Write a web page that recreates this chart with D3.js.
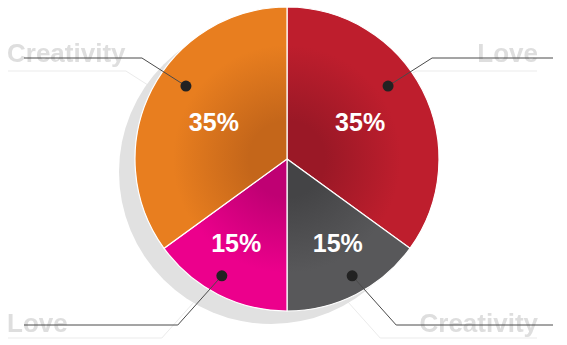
<!DOCTYPE html>
<html>
<head>
<meta charset="utf-8">
<script src="https://cdn.jsdelivr.net/npm/d3@7"></script>
<style>
  body { margin: 0; background: #fff; }
  svg { display: block; font-family: "Liberation Sans", Arial, sans-serif; }
</style>
</head>
<body>
<div id="chart"></div>
<script>
// slices, clockwise from 12 o'clock
const categories = ["Love", "Creativity", "Love", "Creativity"];
const values = [35, 15, 15, 35];
const colors = ["#be1e2d", "#58585a", "#ec008c", "#e87e1f"];
const darkColors = ["#9a1826", "#444446", "#bf0073", "#c4661a"];

const width = 567, height = 345;
const cx = 287, cy = 159, radius = 152;
const shadow = {x: -16, y: 13};
const rowY = {top: 58, bottom: 325};
const lineEnd = {left: 24, right: 553};
const textX = {left: 7, right: 538};

const svg = d3.select("#chart").append("svg")
    .attr("width", width)
    .attr("height", height);

const defs = svg.append("defs");
colors.forEach((c, i) => {
  const g = defs.append("radialGradient")
      .attr("id", `grad${i}`)
      .attr("gradientUnits", "userSpaceOnUse")
      .attr("cx", 0).attr("cy", 0).attr("r", radius);
  g.append("stop").attr("offset", "0%").attr("stop-color", darkColors[i]);
  g.append("stop").attr("offset", "25%").attr("stop-color", darkColors[i]);
  g.append("stop").attr("offset", "75%").attr("stop-color", c);
  g.append("stop").attr("offset", "100%").attr("stop-color", c);
});
defs.append("filter").attr("id", "soft")
  .append("feGaussianBlur").attr("stdDeviation", 0.4);

const pie = d3.pie().sort(null).value(d => d);
const arcs = pie(values);
const arc = d3.arc().innerRadius(0).outerRadius(radius);

// leader geometry for each slice
const callouts = arcs.map((d, i) => {
  const mid = (d.startAngle + d.endAngle) / 2;
  const span = d.endAngle - d.startAngle;
  const side = mid < Math.PI ? 1 : -1;
  const top = Math.cos(mid) > 0;
  const large = span > Math.PI / 2;
  const a = mid - side * (large ? 0.07 : 0.04) * span;
  const r = (large ? 0.82 : 0.88) * radius;
  const dot = [cx + r * Math.sin(a), cy - r * Math.cos(a)];
  const elbow = [dot[0] + side * 44, top ? rowY.top : rowY.bottom];
  const end = [side > 0 ? lineEnd.right : lineEnd.left, elbow[1]];
  return {i, side, top, large, mid, dot, elbow, end};
});

const line = d3.line();

// faint reflection of leaders
svg.append("g")
  .selectAll("path")
  .data(callouts)
  .join("path")
    .attr("d", c => line([c.dot, c.elbow, c.end].map(p => [p[0] + shadow.x, p[1] + shadow.y])))
    .attr("fill", "none")
    .attr("stroke", "#ebebeb")
    .attr("stroke-width", 1);

svg.append("circle")
    .attr("cx", cx + shadow.x)
    .attr("cy", cy + shadow.y)
    .attr("r", radius)
    .attr("fill", "#e1e1e1");

const pieG = svg.append("g").attr("transform", `translate(${cx},${cy})`);

pieG.selectAll("path")
  .data(arcs)
  .join("path")
    .attr("d", arc)
    .attr("fill", (d, i) => `url(#grad${i})`)
    .attr("stroke", "#fff")
    .attr("stroke-width", 1.2);

// percentage labels, small slices pushed a little further out and sideways
pieG.selectAll("text")
  .data(callouts)
  .join("text")
    .attr("x", c => (c.large ? 0.54 : 0.66) * radius * Math.sin(c.mid + (c.large ? 0 : -c.side * 0.06)))
    .attr("y", c => -(c.large ? 0.54 : 0.64) * radius * Math.cos(c.mid + (c.large ? 0 : -c.side * 0.06)))
    .attr("dy", "0.35em")
    .attr("text-anchor", "middle")
    .attr("fill", "#fff")
    .attr("font-weight", "bold")
    .attr("font-size", 25)
    .text(c => values[c.i] + "%");

svg.append("g")
  .selectAll("text")
  .data(callouts)
  .join("text")
    .attr("x", c => c.side > 0 ? textX.right : textX.left)
    .attr("y", c => c.top ? rowY.top + 4 : rowY.bottom + 7)
    .attr("text-anchor", c => c.side > 0 ? "end" : "start")
    .attr("fill", "#dedede")
    .attr("font-weight", "bold")
    .attr("font-size", 26)
    .attr("filter", "url(#soft)")
    .text(c => categories[c.i]);

svg.append("g")
  .selectAll("path")
  .data(callouts)
  .join("path")
    .attr("d", c => line([c.dot, c.elbow, c.end]))
    .attr("fill", "none")
    .attr("stroke", "#4a4a4a")
    .attr("stroke-width", 1);

svg.append("g")
  .selectAll("circle")
  .data(callouts)
  .join("circle")
    .attr("cx", c => c.dot[0])
    .attr("cy", c => c.dot[1])
    .attr("r", 5.5)
    .attr("fill", "#222");
</script>
</body>
</html>
